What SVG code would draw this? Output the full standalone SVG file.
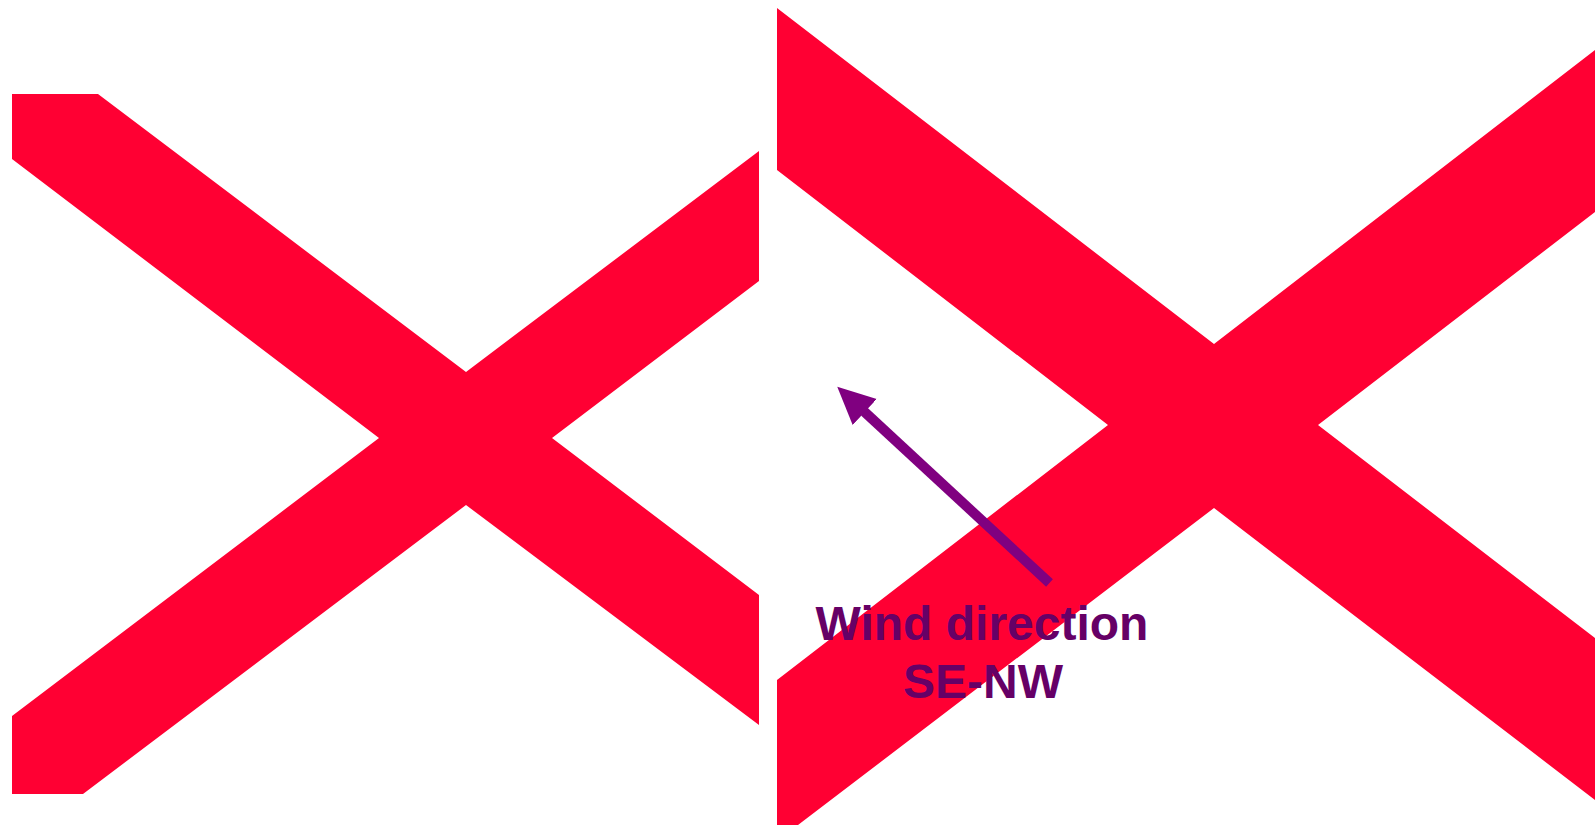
<svg xmlns="http://www.w3.org/2000/svg" width="1595" height="825" viewBox="0 0 1595 825">
<style>
.cross{fill:#FF0033;stroke:none}
.wind{stroke:#800080;stroke-width:10;fill:none}
.label{font-family:"Liberation Sans",Arial,sans-serif;font-weight:bold;font-size:48px;fill:#660066;text-anchor:middle}
</style>
<defs>
<marker id="head" markerUnits="userSpaceOnUse" viewBox="-2 -18 38 36" markerWidth="38" markerHeight="36" refX="1" refY="0" orient="auto">
<path d="M-2,-17.7 L35.4,0 L-2,17.7 z" fill="#800080"/>
</marker>
</defs>
<rect width="1595" height="825" fill="#ffffff"/>
<g id="cross-left">
<polygon class="cross" points="12,94 98,94 466,372 759,151 759,281 552,438 759,595 759,725 466,505 83,794 12,794 12,716 379,438 12,159"/>
</g>
<g id="cross-right">
<polygon class="cross" points="777,8 1214,344 1595,50 1595,212 1318,425 1595,638 1595,800 1214,508 798,825 777,825 777,680 1108,425 777,170"/>
</g>
<g id="connectors">
<line class="wind" x1="1049.5" y1="583" x2="862.5" y2="410" marker-end="url(#head)"/>
</g>
<g id="label">
<text class="label" x="982" y="640">Wind direction</text>
<text class="label" x="983" y="698">SE-NW</text>
</g>
</svg>
